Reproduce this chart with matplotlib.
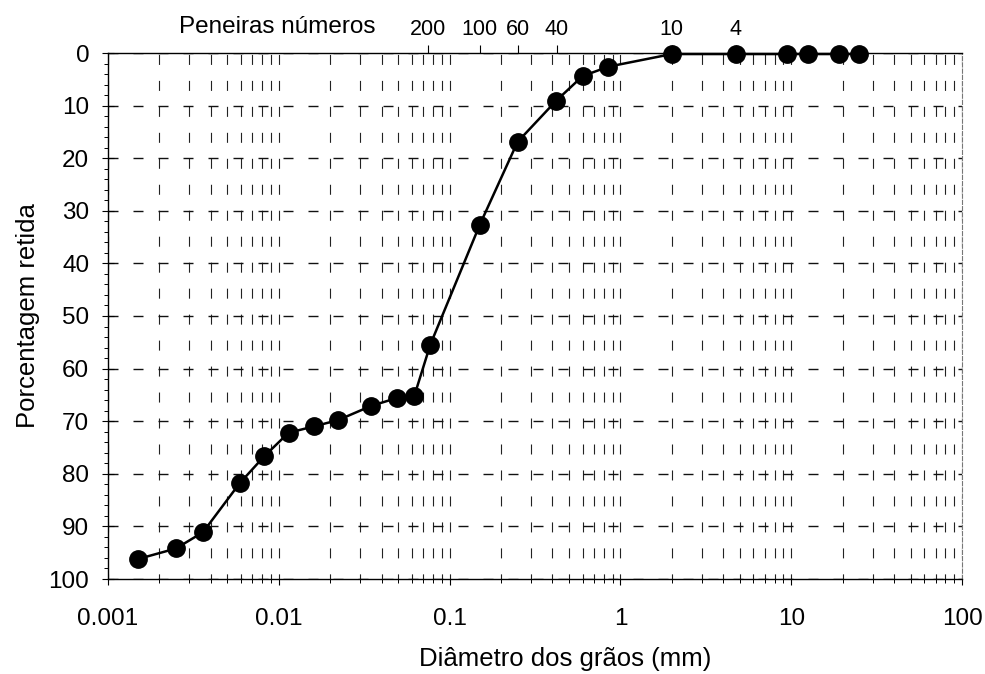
import matplotlib
matplotlib.use("Agg")
import matplotlib.pyplot as plt
from matplotlib.ticker import FixedLocator, LogLocator, MultipleLocator, NullFormatter, FuncFormatter

plt.rcParams['font.family'] = ['Liberation Sans', 'DejaVu Sans']
plt.rcParams['lines.scale_dashes'] = False

# Grain size distribution (mm) and percentage retained
diametros = [0.0015, 0.0025, 0.0036, 0.0059, 0.0082, 0.0114, 0.016, 0.0222,
             0.0347, 0.049, 0.062, 0.077, 0.15, 0.25, 0.42, 0.6, 0.85,
             2.0, 4.75, 9.5, 12.5, 19.0, 25.0]
retida = [96.2, 94.2, 91.1, 81.8, 76.7, 72.2, 71.0, 69.8,
          67.1, 65.6, 65.3, 55.5, 32.7, 16.9, 9.1, 4.4, 2.6,
          0.2, 0.2, 0.2, 0.2, 0.2, 0.2]

# Sieve openings (mm) and their numbers for the top axis
peneiras_mm = [0.075, 0.15, 0.25, 0.425, 2.0, 4.75]
peneiras_num = ['200', '100', '60', '40', '10', '4']

x_ticks = [0.001, 0.01, 0.1, 1, 10, 100]
x_labels = ['0.001', '0.01', '0.1', '1', '10', '100']

DPI = 100
fig = plt.figure(figsize=(9.85, 6.74), dpi=DPI)
ax = fig.add_axes([108 / 985, 1 - 579 / 674, (962 - 108) / 985, (579 - 53) / 674])

ax.set_xscale('log')
ax.set_xlim(0.001, 100)
ax.set_ylim(100, 0)

FS_TICK = 17.5
FS_LABEL = 18.5
FS_TOP = 15.5

# x axis ticks
ax.xaxis.set_major_locator(FixedLocator(x_ticks))
ax.set_xticklabels(x_labels)
ax.xaxis.set_minor_locator(LogLocator(base=10, subs=range(2, 10)))
ax.xaxis.set_minor_formatter(NullFormatter())
ax.tick_params(axis='x', which='major', direction='out', length=4, width=0.8,
               pad=17, labelsize=FS_TICK)
ax.tick_params(axis='x', which='minor', direction='out', length=3, width=0.7)

# y axis ticks
ax.yaxis.set_major_locator(MultipleLocator(10))
ax.yaxis.set_minor_locator(MultipleLocator(2))
ax.yaxis.set_major_formatter(FuncFormatter(lambda v, p: f"{v:.0f}"))
ax.tick_params(axis='y', which='major', direction='inout', length=9, width=0.8,
               pad=9, labelsize=FS_TICK)
ax.tick_params(axis='y', which='minor', direction='out', length=3, width=0.7)

# dashed grid
ax.grid(which='both', axis='x', color='#222222', linewidth=0.8,
        linestyle=(3.5, (7.2, 11.5)))
ax.grid(which='major', axis='y', color='#111111', linewidth=1.0,
        linestyle=(0, (7.2, 10.8)))
ax.set_axisbelow(True)

for s in ['left', 'bottom', 'top']:
    ax.spines[s].set_linewidth(1.0)
    ax.spines[s].set_color('black')
ax.spines['right'].set_color('#777777')
ax.spines['right'].set_linewidth(0.8)
ax.spines['right'].set_linestyle((0, (3, 1.5)))

# curve
ax.plot(diametros, retida, color='black', linewidth=1.8, marker='o',
        markersize=12.5, markerfacecolor='black', markeredgecolor='black',
        clip_on=False, zorder=5)

ax.set_xlabel('Diâmetro dos grãos (mm)', fontsize=FS_LABEL, labelpad=12, x=0.535)
ax.set_ylabel('Porcentagem retida', fontsize=FS_LABEL, labelpad=6)

# top axis with sieve numbers
top = ax.twiny()
top.set_xscale('log')
top.set_xlim(ax.get_xlim())
top.xaxis.set_major_locator(FixedLocator(peneiras_mm))
top.set_xticklabels(peneiras_num)
top.xaxis.set_minor_locator(FixedLocator([]))
top.tick_params(axis='x', which='major', direction='out', length=6, width=0.8,
                pad=3, labelsize=FS_TOP)
for s in top.spines.values():
    s.set_visible(False)

fig.text(277 / 985, 1 - 27 / 674, 'Peneiras números', fontsize=17.5,
         ha='center', va='center')

fig.savefig('out.png', dpi=DPI)
